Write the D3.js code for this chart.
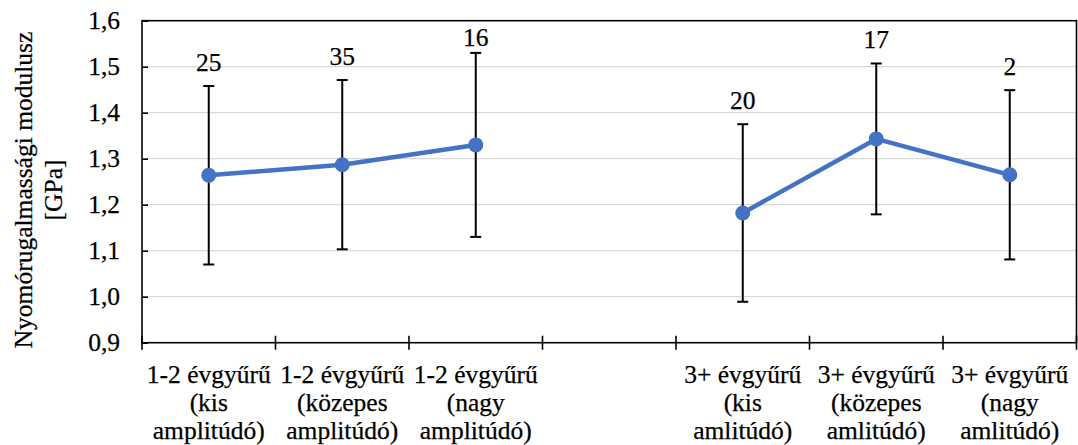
<!DOCTYPE html>
<html>
<head>
<meta charset="utf-8">
<script src="https://cdn.jsdelivr.net/npm/d3@7"></script>
<style>
  html, body { margin: 0; padding: 0; background: #fff; }
</style>
</head>
<body>
<svg id="chart" width="1078" height="445"></svg>
<script>
// ---- data ----
const categories = [
  "1-2 évgyűrű\n(kis\namplitúdó)",
  "1-2 évgyűrű\n(közepes\namplitúdó)",
  "1-2 évgyűrű\n(nagy\namplitúdó)",
  "",
  "3+ évgyűrű\n(kis\namlitúdó)",
  "3+ évgyűrű\n(közepes\namlitúdó)",
  "3+ évgyűrű\n(nagy\namlitúdó)"
];
const means  = [1.264, 1.287, 1.330, null, 1.182, 1.343, 1.265];
const stdDev = [0.194, 0.184, 0.200, null, 0.193, 0.164, 0.184];
const counts = [25, 35, 16, null, 20, 17, 2];
const yTicks = [0.9, 1.0, 1.1, 1.2, 1.3, 1.4, 1.5, 1.6];
const yTitle = ["Nyomórugalmassági modulusz", "[GPa]"];

// ---- layout ----
const FONT = "Liberation Serif";
const svg = d3.select("#chart");
const pLeft = 142, pRight = 1076.5, pTop = 20.7, pBottom = 342.7;
const fontSize = "25.5px";

function styleText(sel) {
  return sel.style("font-family", FONT)
    .style("font-size", fontSize)
    .attr("fill", "#000")
    .attr("stroke", "#000")
    .attr("stroke-width", 0.25);
}

const x = d3.scaleBand().domain(d3.range(categories.length)).range([pLeft, pRight]).padding(0);
const y = d3.scaleLinear().domain([0.9, 1.6]).range([pBottom, pTop]);
const fmt = v => d3.format(".1f")(v).replace(".", ",");

// gridlines
svg.append("g")
  .selectAll("line")
  .data(yTicks.filter(t => t > 0.9 && t < 1.6))
  .join("line")
  .attr("x1", pLeft).attr("x2", pRight)
  .attr("y1", d => y(d)).attr("y2", d => y(d))
  .attr("stroke", "#d9d9d9").attr("stroke-width", 1.2);

// frame
svg.append("rect")
  .attr("x", pLeft).attr("y", pTop)
  .attr("width", pRight - pLeft).attr("height", pBottom - pTop)
  .attr("fill", "none").attr("stroke", "#000").attr("stroke-width", 1.6);

// y axis
const yAxis = svg.append("g")
  .attr("transform", `translate(${pLeft},0)`)
  .call(d3.axisLeft(y).tickValues(yTicks).tickFormat(fmt).tickSizeInner(-6).tickSizeOuter(0).tickPadding(22));
yAxis.select(".domain").remove();
yAxis.selectAll(".tick line").attr("stroke", "#000").attr("stroke-width", 1.6);
styleText(yAxis.selectAll(".tick text"));

// x axis labels
const xAxis = svg.append("g")
  .attr("transform", `translate(0,${pBottom})`)
  .call(d3.axisBottom(x).tickSize(0).tickFormat(""));
xAxis.select(".domain").remove();
xAxis.selectAll(".tick text").remove();
xAxis.selectAll(".tick").each(function(d) {
  const lines = categories[d] ? categories[d].split("\n") : [];
  const t = styleText(d3.select(this).append("text").attr("text-anchor", "middle"));
  lines.forEach((ln, i) => {
    t.append("tspan").attr("x", 0).attr("y", 40 + i * 28).text(ln);
  });
});

// x axis cross ticks at band boundaries
const bounds = d3.range(categories.length + 1).map(i => pLeft + i * x.step());
svg.append("g")
  .selectAll("line")
  .data(bounds)
  .join("line")
  .attr("x1", d => d).attr("x2", d => d)
  .attr("y1", pBottom - 7).attr("y2", pBottom + 7)
  .attr("stroke", "#000").attr("stroke-width", 1.6);

// y axis title
const tg = svg.append("g");
yTitle.forEach((ln, i) => {
  styleText(tg.append("text")
    .attr("transform", `translate(${23 + i * 30},190) rotate(-90)`)
    .attr("text-anchor", "middle")
    .attr("dy", "0.35em"))
    .text(ln);
});

const pts = means.map((m, i) => ({ i, m, s: stdDev[i], n: counts[i] })).filter(d => d.m != null);
const cx = d => x(d.i) + x.bandwidth() / 2;

// error bars
const eb = svg.append("g").attr("stroke", "#000").attr("stroke-width", 2);
pts.forEach(d => {
  const yt = y(d.m + d.s), yb = y(d.m - d.s), c = cx(d);
  eb.append("line").attr("x1", c).attr("x2", c).attr("y1", yt).attr("y2", yb);
  eb.append("line").attr("x1", c - 5.5).attr("x2", c + 5.5).attr("y1", yt).attr("y2", yt);
  eb.append("line").attr("x1", c - 5.5).attr("x2", c + 5.5).attr("y1", yb).attr("y2", yb);
});

// line
const line = d3.line()
  .defined((m) => m != null)
  .x((m, i) => x(i) + x.bandwidth() / 2)
  .y(m => y(m));
svg.append("path")
  .datum(means)
  .attr("d", line)
  .attr("fill", "none")
  .attr("stroke", "#4472C4")
  .attr("stroke-width", 4.5)
  .attr("stroke-linejoin", "round");

// markers
svg.append("g")
  .selectAll("circle")
  .data(pts)
  .join("circle")
  .attr("cx", cx)
  .attr("cy", d => y(d.m))
  .attr("r", 7.5)
  .attr("fill", "#4472C4");

// count labels
styleText(svg.append("g")
  .selectAll("text")
  .data(pts)
  .join("text")
  .attr("x", cx)
  .attr("y", d => Math.max(y(d.m + d.s) - 24, y(1.6) + 16))
  .attr("dy", "0.35em")
  .attr("text-anchor", "middle"))
  .text(d => d.n);
</script>
</body>
</html>
